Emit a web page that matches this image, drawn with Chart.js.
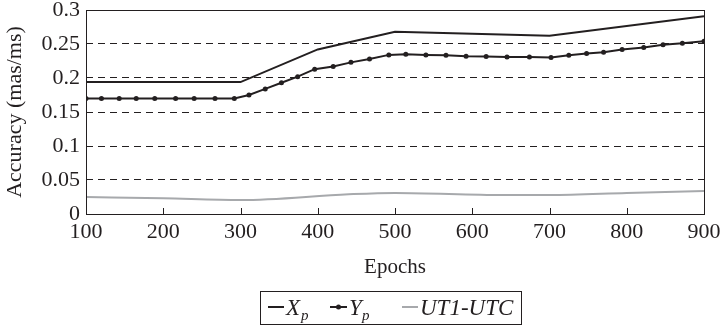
<!DOCTYPE html>
<html>
<head>
<meta charset="utf-8">
<script src="https://cdn.jsdelivr.net/npm/chart.js@4.4.1/dist/chart.umd.min.js"></script>
<style>
  html, body { margin: 0; padding: 0; background: #fff; }
  #wrap { width: 723px; height: 326px; }
</style>
</head>
<body>
<div id="wrap"><canvas id="acc_chart" width="723" height="326"></canvas></div>
<script>
const xpEpochs = [100, 300, 400, 500, 700, 900];
const xpValues = [0.194, 0.194, 0.242, 0.268, 0.262, 0.291];

const ypEpochs = [100, 120, 143, 165, 189, 216, 240, 267, 292, 311, 332, 353, 374, 396, 420, 443,
  467, 492, 514, 540, 566, 592, 618, 645, 674, 702, 725, 748, 770, 794, 822, 847, 872, 900];
const ypValues = [0.170, 0.170, 0.170, 0.170, 0.170, 0.170, 0.170, 0.170, 0.170, 0.175, 0.184, 0.193,
  0.202, 0.213, 0.217, 0.223, 0.228, 0.234, 0.235, 0.234, 0.2335, 0.232, 0.2315, 0.231, 0.231, 0.230,
  0.2335, 0.236, 0.238, 0.242, 0.245, 0.249, 0.251, 0.254];

const utEpochs = [100, 200, 300, 440, 500, 640, 700, 800, 900];
const utValues = [0.025, 0.023, 0.0205, 0.029, 0.031, 0.028, 0.028, 0.031, 0.034];

const xTicks = [100, 200, 300, 400, 500, 600, 700, 800, 900];
const yTicks = [0, 0.05, 0.1, 0.15, 0.2, 0.25, 0.3];

const serif = '"Liberation Serif", "DejaVu Serif", serif';
const ink = '#231f20';

function pts(xs, ys) {
  return xs.map((x, i) => ({ x: x, y: ys[i] }));
}

// frame, inward x ticks and the boxed legend
const decor = {
  id: 'decor',
  afterDraw(chart) {
    const c = chart.ctx;
    const a = chart.chartArea;
    const xs = chart.scales.x;
    c.save();
    c.strokeStyle = ink;
    c.lineWidth = 1;
    c.strokeRect(a.left + 0.5, a.top + 0.5, a.right - a.left, a.bottom - a.top);
    xTicks.slice(1, -1).forEach(t => {
      const px = Math.round(xs.getPixelForValue(t)) + 0.5;
      c.beginPath();
      c.moveTo(px, a.bottom);
      c.lineTo(px, a.bottom - 6);
      c.stroke();
    });

    // legend
    const ly = 307;
    c.strokeRect(260.5, 291.5, 261, 33);
    c.lineWidth = 2;
    c.strokeStyle = ink;
    c.beginPath(); c.moveTo(268, ly); c.lineTo(284, ly); c.stroke();
    c.beginPath(); c.moveTo(330, ly); c.lineTo(347, ly); c.stroke();
    c.fillStyle = ink;
    c.beginPath(); c.arc(338.5, ly, 2.5, 0, Math.PI * 2); c.fill();
    c.strokeStyle = '#a7a9ac';
    c.beginPath(); c.moveTo(402, ly); c.lineTo(418, ly); c.stroke();

    c.fillStyle = ink;
    c.textBaseline = 'alphabetic';
    c.textAlign = 'left';
    const big = 'italic 23px ' + serif;
    const sub = 'italic 15px ' + serif;
    c.font = big; c.fillText('X', 286, 315);
    c.font = sub; c.fillText('p', 301, 320);
    c.font = big; c.fillText('Y', 349, 315);
    c.font = sub; c.fillText('p', 362, 320);
    c.font = big; c.fillText('UT1-UTC', 420, 315);
    c.restore();
  }
};

const data = {
  datasets: [
    {
      label: 'Xp',
      data: pts(xpEpochs, xpValues),
      borderColor: ink,
      borderWidth: 2,
      pointRadius: 0,
      showLine: true,
      tension: 0
    },
    {
      label: 'Yp',
      data: pts(ypEpochs, ypValues),
      borderColor: ink,
      backgroundColor: ink,
      borderWidth: 2,
      pointRadius: 2.5,
      pointBorderWidth: 0,
      showLine: true,
      tension: 0
    },
    {
      label: 'UT1-UTC',
      data: pts(utEpochs, utValues),
      borderColor: '#a7a9ac',
      borderWidth: 2,
      pointRadius: 0,
      showLine: true,
      cubicInterpolationMode: 'monotone'
    }
  ]
};

const config = {
  type: 'scatter',
  data: data,
  plugins: [decor],
  options: {
    responsive: false,
    animation: false,
    layout: { padding: { left: 0, right: 19, top: 10, bottom: 0 } },
    plugins: {
      legend: { display: false },
      tooltip: { enabled: false }
    },
    scales: {
      x: {
        type: 'linear',
        min: 100,
        max: 900,
        afterBuildTicks: s => { s.ticks = xTicks.map(v => ({ value: v })); },
        afterFit: s => { s.height = 112; s.paddingLeft = 0; s.paddingRight = 0; },
        grid: { display: false, drawTicks: false },
        border: { display: false },
        ticks: {
          color: ink,
          padding: 5,
          maxRotation: 0,
          font: { family: serif, size: 22 }
        },
        title: {
          display: true,
          text: 'Epochs',
          color: ink,
          font: { family: serif, size: 21 },
          padding: { top: 0, bottom: 46 }
        }
      },
      y: {
        min: 0,
        max: 0.3,
        afterBuildTicks: s => { s.ticks = yTicks.map(v => ({ value: v })); },
        afterFit: s => { s.width = 86; s.paddingTop = 0; s.paddingBottom = 0; },
        grid: {
          drawTicks: false,
          color: ctx => (ctx.tick.value > 0 && ctx.tick.value < 0.3) ? ink : 'rgba(0,0,0,0)',
          lineWidth: 1
        },
        border: { display: false, dash: [7, 5] },
        ticks: {
          color: ink,
          padding: 6,
          font: { family: serif, size: 22 },
          callback: v => String(parseFloat(v.toFixed(2)))
        },
        title: {
          display: true,
          text: 'Accuracy (mas/ms)',
          color: ink,
          font: { family: serif, size: 22 },
          padding: { top: 2, bottom: 0 }
        }
      }
    }
  }
};

const acc_chart = new Chart(document.getElementById('acc_chart').getContext('2d'), config);
</script>
</body>
</html>
